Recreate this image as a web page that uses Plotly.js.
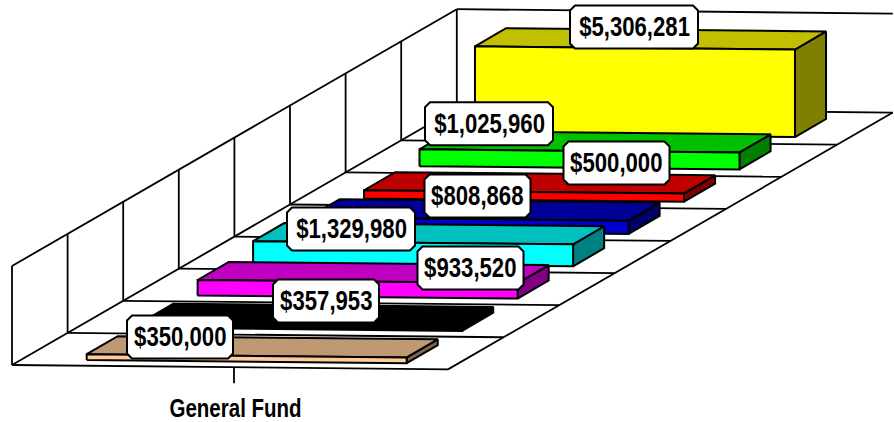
<!DOCTYPE html>
<html>
<head>
<meta charset="utf-8">
<script src="https://cdn.plot.ly/plotly-3.0.1.min.js"></script>
<style>html,body{margin:0;padding:0;background:#fff;overflow:hidden}</style>
</head>
<body>
<div id="chart" style="width:894px;height:422px"></div>
<script>
// Data, front row to back row
const categories = ["General Fund"];
const seriesValues = [350000, 357953, 933520, 1329980, 808868, 500000, 1025960, 5306281];
const faceColors = ["#FFCC99", "#000000", "#FF00FF", "#00FFFF", "#0000CC", "#FF0000", "#00FF00", "#FFFF00"];
const topColors  = ["#BF9973", "#000000", "#C000C0", "#00C0C0", "#000099", "#C00000", "#00C000", "#C0C000"];
const sideColors = ["#806650", "#000000", "#800080", "#008080", "#000066", "#800000", "#008000", "#808000"];
const labelCenters = [[180,337],[326,301],[470.5,268],[351,229],[477.5,196],[616.5,163],[489,123.7],[634,27]];

// Oblique projection: u along the category axis, d depth rows, v value
const axisMax = 6000000, rows = 8, floorW = 436, wallH = 99;
const P = (u, d, v) => [12 + u + d * 55.6, 365 + u * 0.01 - d * 32.1 - (v / axisMax) * wallH];
const B = (u, d, v) => [12 + u + d * 55.47, 364.5 + u * 0.01 - d * 32.3 - (v / axisMax) * wallH];

const traces = [];
function poly(points, fill, width) {
  const xs = points.map(p => p[0]), ys = points.map(p => p[1]);
  traces.push({type:"scatter", mode:"lines", x:xs.concat(xs[0]), y:ys.concat(ys[0]),
    fill:"toself", fillcolor:fill, line:{color:"#000", width:width}, hoverinfo:"skip", showlegend:false});
}
function lines(segs, width) {
  const x = [], y = [];
  segs.forEach(s => { x.push(s[0][0], s[1][0], null); y.push(s[0][1], s[1][1], null); });
  traces.push({type:"scatter", mode:"lines", x, y, line:{color:"#000", width}, hoverinfo:"skip", showlegend:false});
}

// Walls and floor
const segs = [];
for (let i = 0; i <= rows; i++) {
  segs.push([P(0, i, 0), P(0, i, axisMax)]);
  segs.push([P(0, i, 0), P(floorW, i, 0)]);
}
segs.push([P(0, 0, axisMax), P(0, rows, axisMax)]);
segs.push([P(0, 0, 0), P(0, rows, 0)]);
segs.push([P(floorW, 0, 0), P(floorW, rows, 0)]);
segs.push([P(0, rows, axisMax), P(floorW, rows, axisMax)]);
lines(segs, 1.8);
// Category tick
const tickAt = P(222, 0, 0);
lines([[tickAt, [tickAt[0], tickAt[1] + 16]]], 1.8);

// Bars, back to front
const u0 = 65.8, u1 = 385.8, e0 = 0.16, e1 = 0.72;
for (let i = seriesValues.length - 1; i >= 0; i--) {
  const v = seriesValues[i];
  poly([B(u1,i+e0,0), B(u1,i+e1,0), B(u1,i+e1,v), B(u1,i+e0,v)], sideColors[i], 2);
  poly([B(u0,i+e0,v), B(u1,i+e0,v), B(u1,i+e1,v), B(u0,i+e1,v)], topColors[i], 2);
  poly([B(u0,i+e0,0), B(u1,i+e0,0), B(u1,i+e0,v), B(u0,i+e0,v)], faceColors[i], 2);
}

// Value labels
const fmt = v => "$" + v.toLocaleString("en-US");
const labelFont = {family:"'Liberation Sans',Arial,sans-serif", size:27, color:"#000", weight:700};
const shapes = [], annotations = [];
seriesValues.forEach((v, i) => {
  const [cx, cy] = labelCenters[i], t = fmt(v);
  const hw = t.length * 5.5 + 9, hh = 21.5, c = 5;
  shapes.push({type:"path", xref:"x", yref:"y", layer:"above", fillcolor:"#fff",
    line:{color:"#000", width:2},
    path:`M${cx-hw+c},${cy-hh}L${cx+hw-c},${cy-hh}L${cx+hw},${cy-hh+c}L${cx+hw},${cy+hh-c}L${cx+hw-c},${cy+hh}L${cx-hw+c},${cy+hh}L${cx-hw},${cy+hh-c}L${cx-hw},${cy-hh+c}Z`});
  annotations.push({x:cx, y:cy, xref:"x", yref:"y", text:"<b>"+t+"</b>", showarrow:false, font:labelFont});
});
annotations.push({x:235, y:408, xref:"x", yref:"y", text:"<b>"+categories[0]+"</b>", showarrow:false,
  font:Object.assign({}, labelFont, {size:25})});

Plotly.newPlot("chart", traces, {
  width:894, height:422, margin:{l:0,r:0,t:0,b:0}, showlegend:false,
  paper_bgcolor:"#fff", plot_bgcolor:"#fff", hovermode:false,
  xaxis:{range:[0,894], visible:false, fixedrange:true},
  yaxis:{range:[422,0], visible:false, fixedrange:true},
  shapes, annotations
}, {displayModeBar:false, staticPlot:true}).then(gd => {
  // The reference's lettering is condensed: squeeze the real text horizontally.
  gd.querySelectorAll(".annotation-text").forEach(el => {
    const w = el.getComputedTextLength();
    el.setAttribute("textLength", (w * 0.82).toFixed(1));
    el.setAttribute("lengthAdjust", "spacingAndGlyphs");
  });
});
</script>
</body>
</html>
